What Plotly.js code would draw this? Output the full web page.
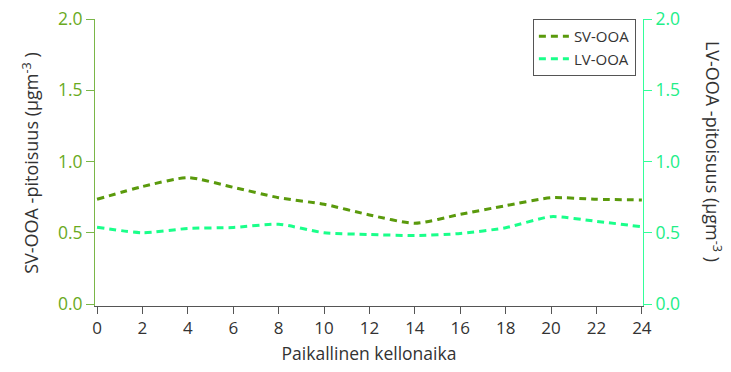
<!DOCTYPE html>
<html>
<head>
<meta charset="utf-8">
<script src="https://cdn.plot.ly/plotly-3.0.1.min.js"></script>
<style>html,body{margin:0;padding:0;background:#fff;}#chart{width:731px;height:372px;}</style>
</head>
<body>
<div id="chart"></div>
<script>
var hours = [0, 2, 4, 6, 8, 10, 12, 14, 16, 18, 20, 22, 24];
var svOOA = [0.735, 0.824, 0.887, 0.819, 0.746, 0.70, 0.625, 0.566, 0.629, 0.69, 0.746, 0.735, 0.73];
var lvOOA = [0.539, 0.50, 0.53, 0.537, 0.56, 0.50, 0.488, 0.48, 0.495, 0.535, 0.613, 0.58, 0.542];
var xTicks = [0, 2, 4, 6, 8, 10, 12, 14, 16, 18, 20, 22, 24];
var yTicks = [0, 0.5, 1.0, 1.5, 2.0];
var yTickText = ['0.0', '0.5', '1.0', '1.5', '2.0'];

var svColor = '#5a9a0c';
var lvColor = '#1aff8a';
var fontFam = '"Open Sans", "Noto Sans", sans-serif';

var traces = [
  {x: hours, y: svOOA, name: 'SV-OOA', type: 'scatter', mode: 'lines',
   line: {color: svColor, width: 3, dash: '7px,5px', shape: 'spline', smoothing: 0.6}, yaxis: 'y'},
  {x: hours, y: lvOOA, name: 'LV-OOA', type: 'scatter', mode: 'lines',
   line: {color: lvColor, width: 3, dash: '7px,5px', shape: 'spline', smoothing: 0.6}, yaxis: 'y2'}
];

var layout = {
  width: 731, height: 372,
  margin: {l: 95, r: 88, t: 19, b: 66},
  paper_bgcolor: '#fff', plot_bgcolor: '#fff',
  font: {family: fontFam, size: 17, color: '#333'},
  showlegend: true,
  legend: {x: 0.987, xanchor: 'right', y: 1.0, yanchor: 'top',
           bordercolor: '#555', borderwidth: 1, bgcolor: '#fff',
           font: {family: fontFam, size: 15, color: '#333'}, tracegroupgap: 0},
  xaxis: {range: [-0.09, 24.05], tickvals: xTicks, ticks: 'outside', ticklen: 7,
          tickcolor: '#555', showline: true, linecolor: '#555', linewidth: 1,
          showgrid: false, zeroline: false, tickfont: {size: 17, color: '#333'},
          title: {text: 'Paikallinen kellonaika', font: {size: 17.5, color: '#333'}, standoff: 9}},
  yaxis: {range: [-0.014, 2.0], tickvals: yTicks, ticktext: yTickText, ticks: 'outside', ticklen: 8,
          tickcolor: '#7ab648', showline: true, linecolor: '#7ab648', linewidth: 1,
          showgrid: false, zeroline: false, tickfont: {size: 17.5, color: '#6aaa1e'}},
  yaxis2: {range: [-0.014, 2.0], tickvals: yTicks, ticktext: yTickText, ticks: 'outside', ticklen: 8,
           tickcolor: '#33ff99', showline: true, linecolor: '#33ff99', linewidth: 1,
           overlaying: 'y', side: 'right', anchor: 'x',
           showgrid: false, zeroline: false, tickfont: {size: 17.5, color: '#22ee88'}},
  annotations: [
    {text: 'SV-OOA -pitoisuus (μgm<sup>-3</sup> )', xref: 'paper', yref: 'paper',
     x: -0.118, y: 0.5, xanchor: 'center', yanchor: 'middle', textangle: -90, showarrow: false,
     font: {size: 18, color: '#333'}},
    {text: 'LV-OOA -pitoisuus (μgm<sup>-3</sup> )', xref: 'paper', yref: 'paper',
     x: 1.128, y: 0.54, xanchor: 'center', yanchor: 'middle', textangle: 90, showarrow: false,
     font: {size: 18, color: '#333'}}
  ]
};

Plotly.newPlot('chart', traces, layout, {displayModeBar: false, staticPlot: true});
</script>
</body>
</html>
